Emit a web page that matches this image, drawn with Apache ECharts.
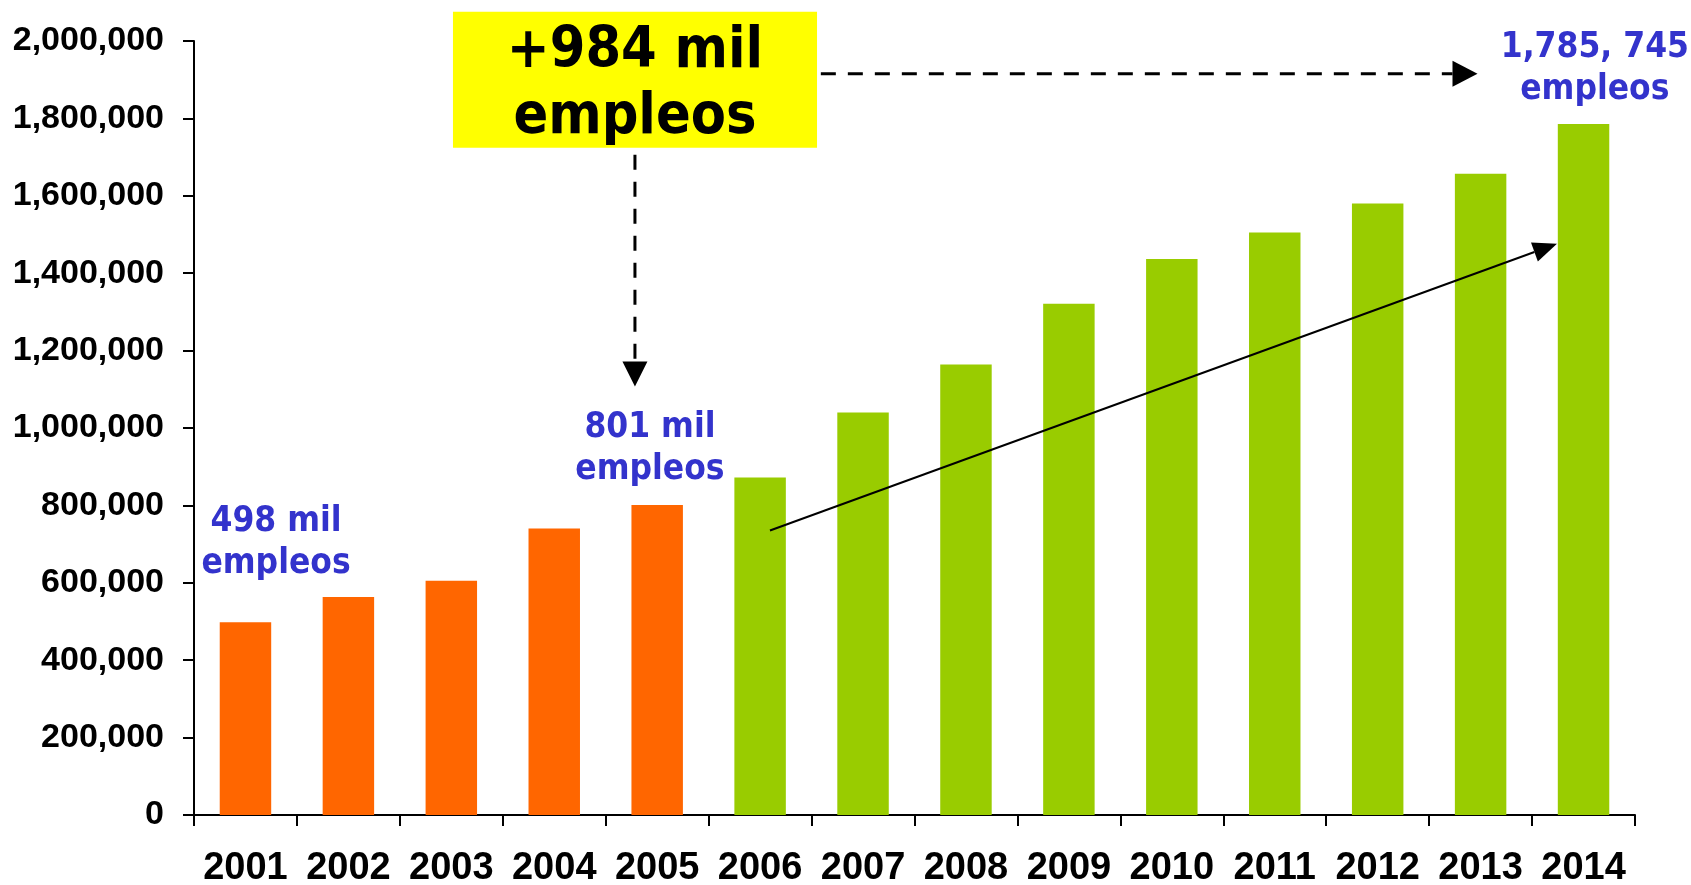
<!DOCTYPE html>
<html><head><meta charset="utf-8">
<script src="https://cdn.jsdelivr.net/npm/echarts@6/dist/echarts.min.js"></script>
<style>html,body{margin:0;padding:0;background:#fff}#c{width:1691px;height:885px}</style>
</head><body><div id="c"></div>
<script>
const years = ['2001','2002','2003','2004','2005','2006','2007','2008','2009','2010','2011','2012','2013','2014'];
const empleos = [498000, 563000, 605000, 740000, 801000, 872000, 1040000, 1164000, 1321000, 1437000, 1505000, 1580000, 1657000, 1785745];
const yTicks = [0, 200000, 400000, 600000, 800000, 1000000, 1200000, 1400000, 1600000, 1800000, 2000000];
const firstGreenYear = '2006';

const ORANGE = '#FF6600', GREEN = '#99CC00', BLUE = '#3333CC';
const ANN_FONT = '"DejaVu Sans Condensed", "DejaVu Sans", sans-serif';

const chart = echarts.init(document.getElementById('c'), null, {renderer: 'canvas'});
const greenStart = years.indexOf(firstGreenYear);

chart.setOption({
  animation: false,
  backgroundColor: '#fff',
  grid: {left: 194, right: 56, top: 41, bottom: 70, containLabel: false, outerBoundsMode: 'none'},
  xAxis: {
    type: 'category', data: years,
    axisLine: {lineStyle: {color: '#000', width: 2}},
    axisTick: {show: true, length: 11, lineStyle: {color: '#000', width: 2}},
    axisLabel: {interval: 0, color: '#000', fontFamily: '"Liberation Sans Narrow", "Liberation Sans", Arial, sans-serif', fontWeight: 'bold', fontSize: 38, margin: 35}
  },
  yAxis: {
    type: 'value', min: yTicks[0], max: yTicks[yTicks.length - 1], interval: yTicks[1] - yTicks[0],
    axisLine: {show: true, lineStyle: {color: '#000', width: 2}},
    axisTick: {show: true, length: 11, lineStyle: {color: '#000', width: 2}},
    splitLine: {show: false},
    axisLabel: {color: '#000', fontFamily: '"Liberation Sans", Arial, sans-serif', fontWeight: 'bold', fontSize: 34, margin: 30,
      formatter: v => v.toLocaleString('en-US')}
  },
  series: [{
    type: 'bar', barWidth: '50%',
    data: empleos,
    itemStyle: {color: p => p.dataIndex < greenStart ? ORANGE : GREEN}
  }]
});

function px(ci, v) {
  const x0 = chart.convertToPixel({xAxisIndex: 0}, years[0]);
  const x1 = chart.convertToPixel({xAxisIndex: 0}, years[1]);
  const y = chart.convertToPixel({yAxisIndex: 0}, v);
  return [x0 + ci * (x1 - x0), y];
}
function arrow(p, q, w, dash, hl, hwid) {
  const dx = q[0] - p[0], dy = q[1] - p[1], L = Math.hypot(dx, dy), ux = dx / L, uy = dy / L;
  const hw = hwid / 2, bx = q[0] - ux * hl, by = q[1] - uy * hl;
  return [
    {type: 'line', z: 100, shape: {x1: p[0], y1: p[1], x2: bx, y2: by}, style: {stroke: '#000', lineWidth: w, lineDash: dash}},
    {type: 'polygon', z: 100, shape: {points: [[q[0], q[1]], [bx - uy * hw, by + ux * hw], [bx + uy * hw, by - ux * hw]]}, style: {fill: '#000'}}
  ];
}
function label(ci, v, text, size, color, lh) {
  const p = px(ci, v);
  return {type: 'text', z: 100, x: p[0], y: p[1], style: {text: text, fill: color, font: 'bold ' + size + 'px ' + ANN_FONT, align: 'center', verticalAlign: 'middle', lineHeight: lh}};
}

const b0 = px(2.016, 2075700), b1 = px(5.553, 1724000);
const els = [
  {type: 'rect', z: 99, shape: {x: b0[0], y: b0[1], width: b1[0] - b0[0], height: b1[1] - b0[1]}, style: {fill: '#FFFF00'}},
  label(3.784, 1886000, '+984 mil\nempleos', 57, '#000', 66),
  ...arrow(px(5.59, 1915500), px(11.97, 1915500), 3, [15, 12], 25, 26),
  ...arrow(px(3.784, 1706000), px(3.784, 1107000), 3, [15, 12], 25, 25),
  ...arrow(px(5.096, 735000), px(12.742, 1476000), 2, null, 24, 20),
  label(0.297, 703000, '498 mil\nempleos', 35, BLUE, 42),
  label(3.93, 947000, '801 mil\nempleos', 35, BLUE, 42),
  label(13.11, 1928000, '1,785, 745\nempleos', 35, BLUE, 42)
];
chart.setOption({graphic: {elements: els}});
</script>
</body></html>
